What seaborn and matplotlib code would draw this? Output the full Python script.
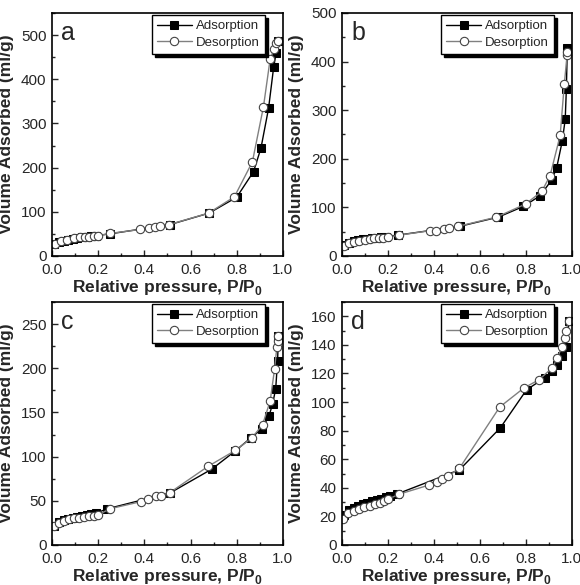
import numpy as np
import pandas as pd
import matplotlib
matplotlib.use('Agg')
import matplotlib.pyplot as plt
from matplotlib.ticker import MultipleLocator, FormatStrFormatter
import seaborn as sns

# panel a
ads_a_x = [0.01, 0.03, 0.05, 0.07, 0.09, 0.11, 0.13, 0.15, 0.17, 0.19, 0.25, 0.51, 0.68, 0.80, 0.873, 0.905, 0.938, 0.96, 0.971, 0.978]
ads_a_y = [27, 32, 35, 37, 39, 41, 42, 44, 45, 46, 50, 71, 97, 133, 191, 244, 334, 427, 460, 486]
des_a_x = [0.978, 0.971, 0.962, 0.945, 0.916, 0.868, 0.79, 0.678, 0.507, 0.468, 0.447, 0.418, 0.382, 0.25, 0.20, 0.18, 0.162, 0.143, 0.12, 0.095, 0.064, 0.04, 0.013]
des_a_y = [486, 481, 468, 446, 338, 213, 134, 97, 71, 68, 66, 63, 60, 51, 46, 45, 44, 43, 42, 40, 37, 34, 28]

# panel b
ads_b_x = [0.01, 0.03, 0.05, 0.07, 0.09, 0.11, 0.13, 0.15, 0.17, 0.19, 0.243, 0.512, 0.68, 0.789, 0.862, 0.913, 0.934, 0.958, 0.971, 0.976, 0.98]
ads_b_y = [22, 27, 30, 32, 34, 35, 37, 38, 39, 40, 43, 61, 80, 102, 124, 157, 182, 236, 281, 343, 428]
des_b_x = [0.98, 0.979, 0.967, 0.949, 0.905, 0.869, 0.799, 0.672, 0.505, 0.466, 0.444, 0.41, 0.381, 0.25, 0.2, 0.18, 0.163, 0.14, 0.12, 0.098, 0.076, 0.054, 0.03, 0.01]
des_b_y = [420, 413, 353, 248, 165, 133, 107, 80, 61, 57, 55, 52, 52, 43, 39, 38, 37, 36, 34, 33, 31, 29, 26, 21]

# panel c
ads_c_x = [0.01, 0.03, 0.05, 0.07, 0.09, 0.11, 0.13, 0.15, 0.17, 0.19, 0.24, 0.512, 0.693, 0.792, 0.86, 0.908, 0.94, 0.956, 0.969, 0.977, 0.981]
ads_c_y = [22, 25.5, 28, 29.5, 31, 32, 33, 34, 35, 36, 41, 59, 86, 106, 121, 131, 146, 160, 177, 208, 237]
des_c_x = [0.981, 0.977, 0.974, 0.964, 0.945, 0.912, 0.865, 0.794, 0.676, 0.509, 0.472, 0.45, 0.414, 0.384, 0.251, 0.2, 0.18, 0.16, 0.138, 0.116, 0.095, 0.073, 0.05, 0.03, 0.01]
des_c_y = [237, 231, 224, 199, 163, 136, 121, 107, 89, 59, 56, 55, 52, 49, 41, 34, 33, 32.5, 32, 31, 30, 29, 27, 25, 21.5]

# panel d
ads_d_x = [0.01, 0.03, 0.05, 0.07, 0.09, 0.11, 0.13, 0.15, 0.17, 0.19, 0.21, 0.24, 0.511, 0.689, 0.803, 0.883, 0.912, 0.937, 0.956, 0.974, 0.988]
ads_d_y = [21, 24.5, 26, 27.3, 28.5, 29.5, 30.5, 31.5, 32.5, 33.5, 34.3, 35.7, 52.6, 82, 108.6, 117, 121.5, 126, 132, 138.5, 156.5]
des_d_x = [0.988, 0.974, 0.968, 0.956, 0.937, 0.915, 0.857, 0.791, 0.686, 0.511, 0.46, 0.434, 0.412, 0.38, 0.248, 0.2, 0.182, 0.165, 0.142, 0.12, 0.095, 0.073, 0.05, 0.026, 0.004]
des_d_y = [156.5, 150, 145, 138.5, 131, 124, 115.6, 109.8, 96.5, 53.7, 48, 46, 44.4, 42, 35.5, 32, 30.8, 29.7, 28.5, 27.3, 26.4, 25.5, 24, 22.7, 18]

panel_letters = ['a', 'b', 'c', 'd']
y_limits = [550, 500, 275, 170]
y_major = [100, 100, 50, 20]


def draw_panel(ax, ax_x, ax_y, dx, dy, letter, ymax, ystep):
    sns.lineplot(x=ax_x, y=ax_y, ax=ax, color='black', linewidth=1, marker='s',
                 markersize=5.5, markerfacecolor='black', markeredgecolor='black',
                 label='Adsorption')
    sns.lineplot(x=dx, y=dy, ax=ax, color='#808080', linewidth=1, marker='o',
                 markersize=6, markerfacecolor='white', markeredgecolor='#444444',
                 markeredgewidth=0.8, label='Desorption')
    ax.set_xlim(0, 1.0)
    ax.set_ylim(0, ymax)
    ax.xaxis.set_major_locator(MultipleLocator(0.2))
    ax.xaxis.set_minor_locator(MultipleLocator(0.1))
    ax.yaxis.set_major_locator(MultipleLocator(ystep))
    ax.yaxis.set_minor_locator(MultipleLocator(ystep / 2))
    ax.xaxis.set_major_formatter(FormatStrFormatter('%.1f'))
    ax.tick_params(which='both', direction='in', labelsize=11, width=1)
    ax.tick_params(which='major', length=4)
    ax.tick_params(which='minor', length=2)
    ax.tick_params(axis='x', pad=5)
    ax.tick_params(axis='y', pad=4)
    for sp in ax.spines.values():
        sp.set_linewidth(1.2)
        sp.set_color('black')
    ax.set_xlabel('Relative pressure, P/P$_\\mathbf{0}$', fontsize=12.5, fontweight='bold')
    ax.set_ylabel('Volume Adsorbed (ml/g)', fontsize=12.5, fontweight='bold')
    ax.xaxis.set_label_coords(0.5, -0.092)
    ax.yaxis.set_label_coords(-0.165, 0.5)
    ax.text(0.04, 0.965, letter, transform=ax.transAxes, fontsize=18, va='top', ha='left')
    ax.legend(loc='upper right', bbox_to_anchor=(0.93, 1.0), borderaxespad=0.15,
              frameon=True, fancybox=False, edgecolor='black', fontsize=9.5,
              handlelength=2.6, handletextpad=0.3, borderpad=0.4, labelspacing=0.3,
              shadow={'color': 'black', 'alpha': 1})
    ax.get_legend().get_frame().set_linewidth(1)


def main():
    sns.set_style('ticks')
    plt.rcParams['font.family'] = ['Liberation Sans', 'DejaVu Sans']
    plt.rcParams['mathtext.fontset'] = 'custom'
    plt.rcParams['mathtext.bf'] = 'Liberation Sans:bold'
    plt.rcParams['mathtext.rm'] = 'Liberation Sans'

    fig = plt.figure(figsize=(5.8, 5.85), dpi=100)
    positions = [
        [0.0897, 0.5624, 0.398, 0.4154],
        [0.5897, 0.5624, 0.3963, 0.4154],
        [0.0897, 0.0684, 0.398, 0.4154],
        [0.5897, 0.0684, 0.3963, 0.4154],
    ]
    data = [
        (ads_a_x, ads_a_y, des_a_x, des_a_y),
        (ads_b_x, ads_b_y, des_b_x, des_b_y),
        (ads_c_x, ads_c_y, des_c_x, des_c_y),
        (ads_d_x, ads_d_y, des_d_x, des_d_y),
    ]
    for pos, (axx, axy, dx, dy), letter, ymax, ystep in zip(positions, data, panel_letters, y_limits, y_major):
        ax = fig.add_axes(pos)
        draw_panel(ax, axx, axy, dx, dy, letter, ymax, ystep)

    fig.savefig('out.png', dpi=100)


if __name__ == '__main__':
    main()
